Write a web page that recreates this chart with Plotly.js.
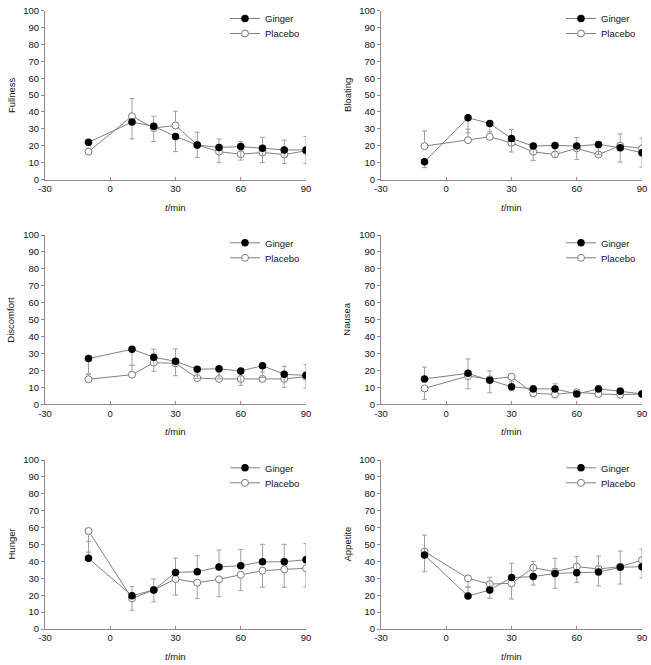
<!DOCTYPE html>
<html><head><meta charset="utf-8">
<script src="https://cdn.plot.ly/plotly-3.0.1.min.js"></script>
<style>html,body{margin:0;padding:0;background:#fff}#chart{width:651px;height:665px}</style>
</head><body><div id="chart"></div>
<script>
// ---- data ----
const time = [-10, 10, 20, 30, 40, 50, 60, 70, 80, 90];
const xTickVals = [-30, 0, 30, 60, 90];
const xTickText = ['-30', '0', '30', '60', '90'];
const yTickVals = [0, 10, 20, 30, 40, 50, 60, 70, 80, 90, 100];
const seriesNames = ['Ginger', 'Placebo'];
const panelTitles = ['Fullness', 'Bloating', 'Discomfort', 'Nausea', 'Hunger', 'Appetite'];
const xTitle = '<i>t</i>/min';

const fullnessGinger   = [22, 34, 31.5, 25.5, 20.5, 19, 19.5, 18.5, 17.5, 17.5];
const fullnessPlacebo  = [16.5, 37.5, 30.5, 32, 20.5, 16.5, 15, 16, 14.8, 17];
const fullnessGingerErr  = [2, 10, 9, 9, 7.5, 9, 8, 8.5, 8, 8];
const fullnessPlaceboErr = [2, 10.5, 7, 8.5, 7.5, 7.5, 7.5, 9, 8.5, 8.5];

const bloatingGinger   = [10.5, 36.6, 33.2, 24.3, 19.8, 20.2, 19.8, 20.8, 18.8, 15.8];
const bloatingPlacebo  = [19.8, 23.3, 25.3, 21.7, 16.4, 14.8, 18.4, 14.8, 20, 18.4];
const bloatingGingerErr  = [3.5, 9, 6, 8, 8.5, 7, 8, 6, 8.5, 8.5];
const bloatingPlaceboErr = [9, 6.5, 3, 8, 5, 4, 6.5, 4, 7, 6];

const discomfortGinger   = [27, 32.5, 27.8, 25.4, 20.7, 21, 19.7, 22.8, 17.7, 17.1];
const discomfortPlacebo  = [14.8, 17.5, 24.6, 24.2, 15.5, 15, 15, 15, 15, 16.3];
const discomfortGingerErr  = [9, 9.5, 8.3, 8.5, 5.5, 6, 8.5, 7, 7.7, 7.6];
const discomfortPlaceboErr = [3, 5.5, 8, 8.5, 4, 4, 4, 4, 7.5, 7.2];

const nauseaGinger   = [15, 18.3, 14.2, 10.4, 9.1, 9.1, 6.1, 9.1, 7.7, 6.1];
const nauseaPlacebo  = [9.4, 16.7, 14.8, 16.3, 6.5, 5.9, 7.1, 6.1, 5.7, 6.1];
const nauseaGingerErr  = [7, 8.5, 5.5, 3, 2, 3, 1.5, 2, 2, 1.5];
const nauseaPlaceboErr = [6.5, 7.5, 8, 8.3, 2, 2, 2, 1.5, 1.5, 1.5];

const hungerGinger   = [41.8, 19.7, 23.1, 33.5, 33.9, 36.7, 37.5, 39.8, 39.8, 41];
const hungerPlacebo  = [58, 18.1, 23.1, 29.6, 27.4, 29.4, 32.1, 34.5, 35.3, 35.9];
const hungerGingerErr  = [10, 5.5, 6.5, 8.5, 9.5, 10, 9.6, 10.3, 10.3, 9.5];
const hungerPlaceboErr = [12.5, 7, 7, 9.5, 9.3, 10.3, 9.4, 9.8, 10.6, 11];

const appetiteGinger   = [43.8, 19.5, 23.1, 30.4, 31, 32.9, 33.3, 33.7, 36.5, 36.9];
const appetitePlacebo  = [45.8, 30, 26.6, 27, 36.3, 33.9, 36.9, 35.5, 36.9, 40.8];
const appetiteGingerErr  = [11.8, 5, 7.5, 8.5, 9, 9, 9.5, 9.5, 9.6, 10.3];
const appetitePlaceboErr = [11.9, 5, 8.4, 9.2, 10.3, 9.8, 9.3, 10, 10.3, 10.5];

// direction of ginger error bar per panel (placebo uses the opposite)
const gingerErrDir = ['minus', 'minus', 'minus', 'plus', 'plus', 'plus'];

const panels = [
  [fullnessGinger, fullnessPlacebo, fullnessGingerErr, fullnessPlaceboErr],
  [bloatingGinger, bloatingPlacebo, bloatingGingerErr, bloatingPlaceboErr],
  [discomfortGinger, discomfortPlacebo, discomfortGingerErr, discomfortPlaceboErr],
  [nauseaGinger, nauseaPlacebo, nauseaGingerErr, nauseaPlaceboErr],
  [hungerGinger, hungerPlacebo, hungerGingerErr, hungerPlaceboErr],
  [appetiteGinger, appetitePlacebo, appetiteGingerErr, appetitePlaceboErr]
];

// ---- layout geometry (pixels) ----
const W = 651, H = 665;
const colX = [[45, 306], [381, 642]];
const rowY = [[10.7, 179.5], [235, 404.3], [460, 629]];
const FONT = 'Liberation Sans, Arial, sans-serif';
const FS = 9.5;
const LINE = '#808080';
const AX = '#8c8c8c';
const ERR = '#a0a0a0';

const zeros = time.map(() => 0);
const traces = [];
const layout = {
  width: W, height: H,
  margin: {l: 0, r: 0, t: 0, b: 0},
  paper_bgcolor: '#fff', plot_bgcolor: '#fff',
  font: {family: FONT, size: FS, color: '#111'},
  showlegend: true,
  annotations: []
};

function legendDef(col, row, offset) {
  return {
    x: (colX[col][1] - 81) / W, y: 1 - (rowY[row][0] - 6.7 + offset) / H,
    xanchor: 'left', yanchor: 'top', bgcolor: 'rgba(0,0,0,0)', borderwidth: 0,
    font: {family: FONT, size: FS, color: '#111'}, itemwidth: 30
  };
}

panels.forEach((p, i) => {
  const n = i + 1;
  const col = i % 2, row = Math.floor(i / 2);
  const xs = n === 1 ? '' : String(n);
  const xd = [colX[col][0] / W, colX[col][1] / W];
  const yd = [1 - rowY[row][1] / H, 1 - rowY[row][0] / H];
  const legG = n === 1 ? 'legend' : 'legend' + (2 * n - 1);
  const legP = 'legend' + (2 * n);
  const gMinus = gingerErrDir[i] === 'minus';

  traces.push({
    type: 'scatter', mode: 'lines+markers', name: seriesNames[1],
    x: time, y: p[1], xaxis: 'x' + xs, yaxis: 'y' + xs, legend: legP,
    line: {color: LINE, width: 1},
    marker: {symbol: 'circle', size: 7, color: '#fff', line: {color: '#7a7a7a', width: 1}},
    error_y: {type: 'data', symmetric: false,
      array: gMinus ? p[3] : zeros, arrayminus: gMinus ? zeros : p[3],
      color: ERR, thickness: 1, width: 2.5},
    hoverinfo: 'skip'
  });
  traces.push({
    type: 'scatter', mode: 'lines+markers', name: seriesNames[0],
    x: time, y: p[0], xaxis: 'x' + xs, yaxis: 'y' + xs, legend: legG,
    line: {color: LINE, width: 1},
    marker: {symbol: 'circle', size: 7.5, color: '#000', line: {color: '#000', width: 0}},
    error_y: {type: 'data', symmetric: false,
      array: gMinus ? zeros : p[2], arrayminus: gMinus ? p[2] : zeros,
      color: ERR, thickness: 1, width: 2.5},
    hoverinfo: 'skip'
  });

  layout['xaxis' + xs] = {
    domain: xd, anchor: 'y' + xs, range: [-30, 90], tickvals: xTickVals, ticktext: xTickText,
    showgrid: false, zeroline: false, showline: true, linecolor: AX, linewidth: 1,
    ticks: 'inside', ticklen: 3, tickcolor: AX, automargin: false,
    tickfont: {family: FONT, size: FS, color: '#111'}, fixedrange: true
  };
  layout['yaxis' + xs] = {
    domain: yd, anchor: 'x' + xs, range: [0, 100], tickvals: yTickVals,
    showgrid: false, zeroline: false, showline: true, linecolor: AX, linewidth: 1,
    ticks: 'outside', ticklen: 3, tickcolor: AX, automargin: false,
    tickfont: {family: FONT, size: FS, color: '#111'}, fixedrange: true
  };
  layout[legG] = legendDef(col, row, 0);
  layout[legP] = legendDef(col, row, 15);
  layout.annotations.push({
    xref: 'paper', yref: 'paper', x: (colX[col][0] - 34) / W, y: (yd[0] + yd[1]) / 2,
    xanchor: 'center', yanchor: 'middle', textangle: -90, showarrow: false,
    text: panelTitles[i], font: {family: FONT, size: FS, color: '#111'}
  });
  layout.annotations.push({
    xref: 'paper', yref: 'paper', x: (xd[0] + xd[1]) / 2, y: 1 - (rowY[row][1] + 27.5) / H,
    xanchor: 'center', yanchor: 'middle', showarrow: false,
    text: xTitle, font: {family: FONT, size: FS, color: '#111'}
  });
});

Plotly.newPlot('chart', traces, layout, {displayModeBar: false, staticPlot: true});
</script>
</body></html>
